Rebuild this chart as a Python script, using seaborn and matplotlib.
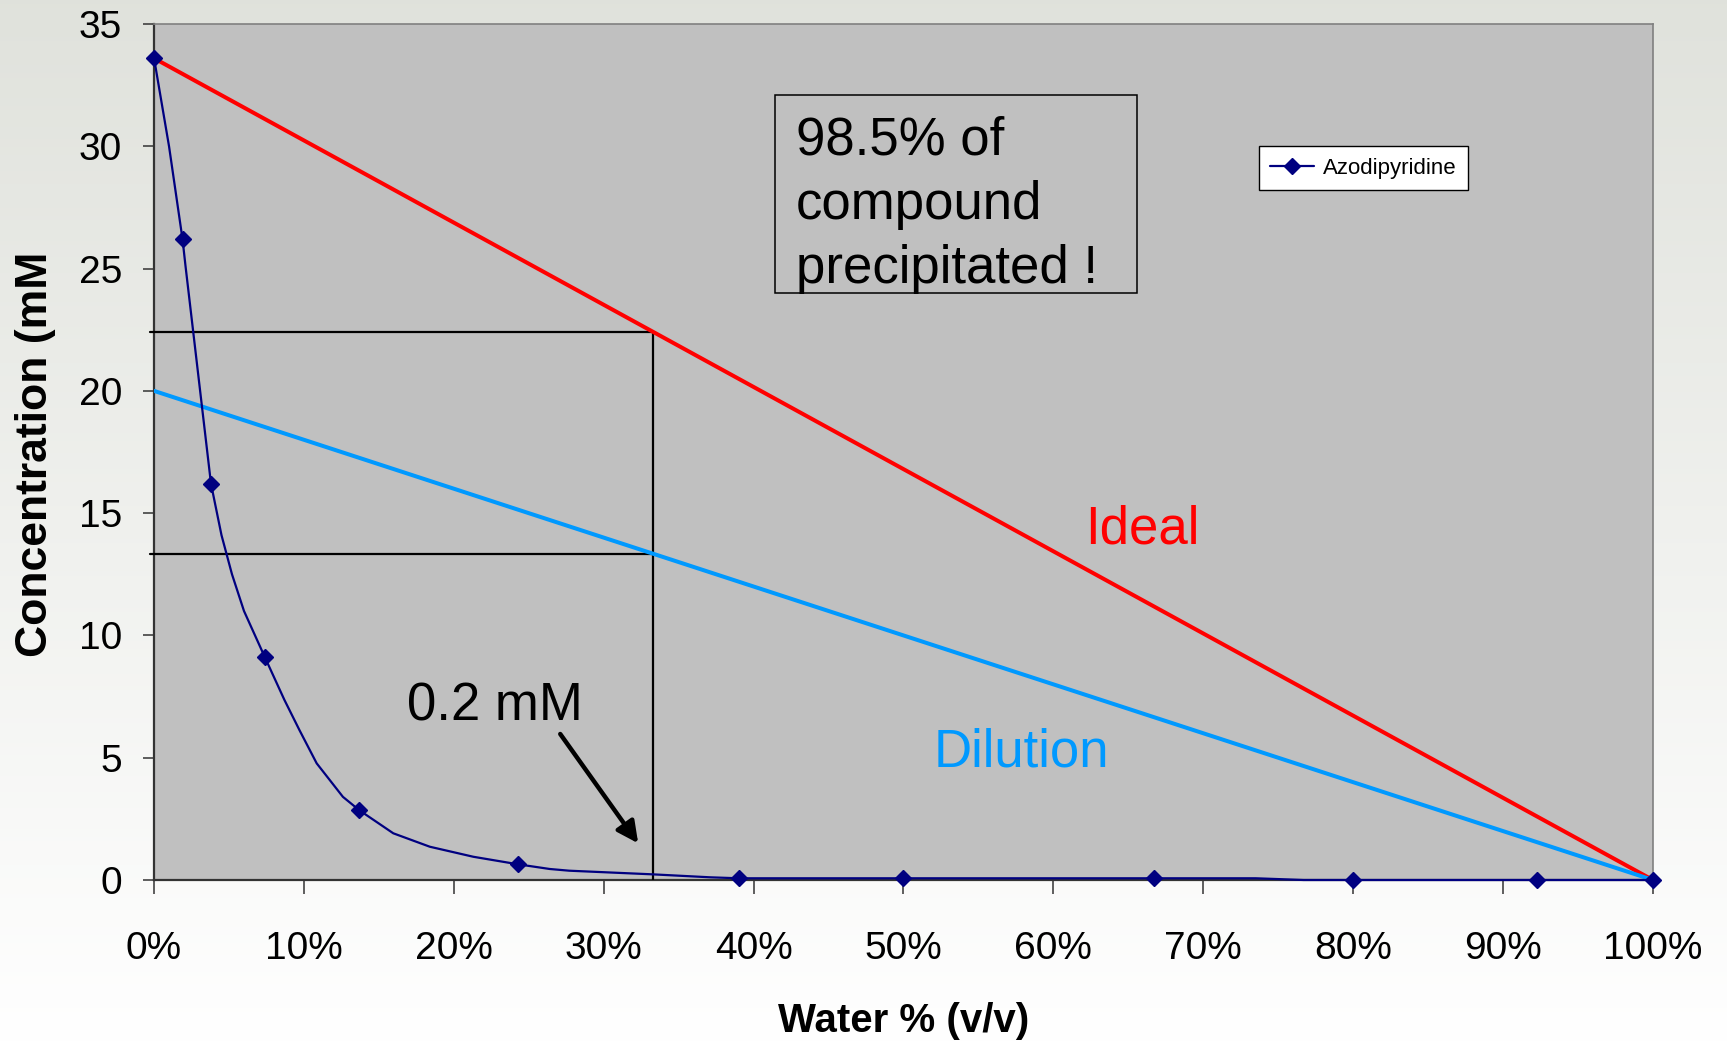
import numpy as np
import pandas as pd
import matplotlib
matplotlib.use("Agg")
import matplotlib.pyplot as plt
import seaborn as sns
from matplotlib.lines import Line2D
from matplotlib.patches import Rectangle

# ---------------- data ----------------
marker_x = [0, 1.9, 3.8, 7.4, 13.7, 24.3, 39.0, 50.0, 66.7, 80.0, 92.3, 100]
marker_y = [33.6, 26.2, 16.2, 9.1, 2.85, 0.64, 0.07, 0.07, 0.07, 0.0, 0.0, 0.0]

curve_x = [0, 1.0, 1.9, 2.1, 3.8, 4.5, 5.2, 6.0, 7.4, 8.7, 9.7, 10.85, 12.6, 13.7,
           15.96, 18.4, 21.3, 24.3, 26.4, 27.7, 33.3, 37.1, 39.0, 50.0, 66.7, 73.5,
           76.7, 80.0, 92.3, 100]
curve_y = [33.6, 30.0, 26.2, 25.1, 16.2, 14.1, 12.5, 11.0, 9.1, 7.36, 6.13, 4.77, 3.4, 2.85,
           1.91, 1.36, 0.95, 0.64, 0.45, 0.38, 0.23, 0.11, 0.07, 0.07, 0.07, 0.07,
           0.0, 0.0, 0.0, 0.0]

line_x = [0, 100]
ideal_y = [33.6, 0]
dilution_y = [20, 0]

guide_x = 33.3
guide_ideal = 22.4
guide_dilution = 13.35

x_ticks = [0, 10, 20, 30, 40, 50, 60, 70, 80, 90, 100]
x_tick_labels = [f"{t}%" for t in x_ticks]
y_ticks = [0, 5, 10, 15, 20, 25, 30, 35]

series_name = "Azodipyridine"
box_text = "98.5% of\ncompound\nprecipitated !"

# ---------------- style ----------------
sns.set_style("ticks")
plt.rcParams["font.family"] = ["Liberation Sans", "DejaVu Sans"]
plt.rcParams["text.color"] = "black"
plt.rcParams["axes.labelcolor"] = "black"
plt.rcParams["xtick.labelcolor"] = "black"
plt.rcParams["ytick.labelcolor"] = "black"

fig = plt.figure(figsize=(17.27, 10.45), dpi=100)

# gradient background
bg = fig.add_axes([0, 0, 1, 1], zorder=-10)
grad = np.linspace(0, 1, 256).reshape(-1, 1)
top = np.array([0.878, 0.886, 0.862])
bot = np.array([1.0, 1.0, 1.0])
img = top[None, None, :] * (1 - grad[:, :, None]) + bot[None, None, :] * grad[:, :, None]
bg.imshow(img, aspect="auto", extent=[0, 1, 0, 1], origin="upper")
bg.set_axis_off()

ax = fig.add_axes([0.0892, 0.1579, 0.9571 - 0.0892, 0.977 - 0.1579])
ax.set_facecolor("#c0c0c0")

navy = "#000080"
curve_df = pd.DataFrame({"x": curve_x, "y": curve_y})
sns.lineplot(data=curve_df, x="x", y="y", ax=ax, sort=False, color=navy, lw=1.6,
             zorder=5, clip_on=False)
mk_df = pd.DataFrame({"x": marker_x, "y": marker_y})
ax.plot(mk_df["x"], mk_df["y"], ls="none", marker="D", ms=8, color=navy, zorder=6,
        clip_on=False)

ref_df = pd.DataFrame({"x": line_x, "ideal": ideal_y, "dil": dilution_y})
sns.lineplot(data=ref_df, x="x", y="ideal", ax=ax, color="#ff0000", lw=2.9, zorder=4)
sns.lineplot(data=ref_df, x="x", y="dil", ax=ax, color="#0099ff", lw=2.9, zorder=4)

# guide lines
ax.plot([-0.25, guide_x], [guide_ideal, guide_ideal], color="black", lw=1.6, zorder=3, clip_on=False)
ax.plot([-0.25, guide_x], [guide_dilution, guide_dilution], color="black", lw=1.6, zorder=3, clip_on=False)
ax.plot([guide_x, guide_x], [0, guide_ideal], color="black", lw=1.6, zorder=3)

# annotations
ax.add_patch(Rectangle((41.4, 24.0), 65.6 - 41.4, 32.1 - 24.0, fill=False,
                       edgecolor="black", lw=1.1, zorder=7))
ax.text(42.8, 27.6, box_text, fontsize=38, va="center", ha="left", linespacing=1.36,
        color="black", zorder=8)
ax.text(62.1, 14.35, "Ideal", fontsize=38, color="#ff0000", va="center", ha="left")
ax.text(52.0, 5.2, "Dilution", fontsize=38, color="#0099ff", va="center", ha="left")
ax.text(16.9, 7.1, "0.2 mM", fontsize=38, color="black", va="center", ha="left")
ax.annotate("", xy=(32.3, 1.5), xytext=(27.1, 5.97),
            arrowprops=dict(arrowstyle="-|>", lw=3.2, color="black", mutation_scale=32,
                            shrinkA=0, shrinkB=0))

# axes
ax.set_xlim(0, 100)
ax.set_ylim(0, 35)
ax.set_xticks(x_ticks)
ax.set_xticklabels(x_tick_labels)
ax.set_yticks(y_ticks)
ax.tick_params(axis="both", labelsize=28, direction="out", color="#333333", width=1.1,
               labelcolor="black")
ax.tick_params(axis="x", length=10, pad=27)
ax.tick_params(axis="y", length=8, pad=15)
for s in ["left", "bottom"]:
    ax.spines[s].set_color("#333333")
    ax.spines[s].set_linewidth(1.6)
for s in ["top", "right"]:
    ax.spines[s].set_color("#808080")
    ax.spines[s].set_linewidth(1.2)
    ax.spines[s].set_visible(True)

ax.set_xlabel("Water % (v/v)", fontsize=29, fontweight="bold", color="black")
ax.set_ylabel("Concentration (mM", fontsize=32, fontweight="bold", color="black")
ax.xaxis.set_label_coords(0.5, -0.143)
ax.yaxis.set_label_coords(-0.0655, 0.497)

handle = Line2D([], [], color=navy, lw=1.6, marker="D", ms=8)
leg = ax.legend([handle], [series_name], loc="upper left", bbox_to_anchor=(0.737, 0.857),
                fontsize=16, frameon=True, fancybox=False, handlelength=2.0,
                handletextpad=0.4, borderpad=0.5, borderaxespad=0,
                edgecolor="black", framealpha=1)
leg.get_frame().set_linewidth(1.0)
for t in leg.get_texts():
    t.set_color("black")

fig.savefig("out.png", dpi=100)
